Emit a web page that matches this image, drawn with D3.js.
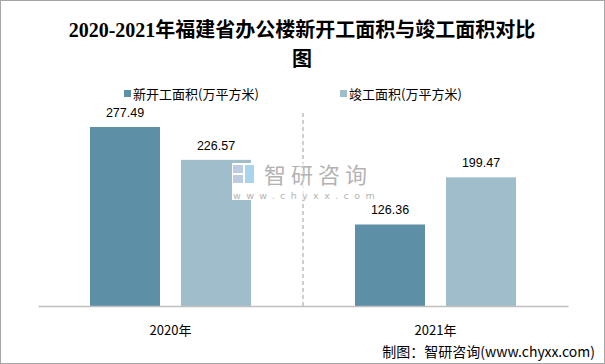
<!DOCTYPE html>
<html>
<head>
<meta charset="utf-8">
<script src="https://cdn.jsdelivr.net/npm/d3@7/dist/d3.min.js"></script>
<style>
html,body{margin:0;padding:0;background:#fff;}
svg{display:block;}
</style>
</head>
<body>
<svg id="chart" width="605" height="364"></svg>
<script>
const categories = ["2020年", "2021年"];
const seriesNames = ["新开工面积(万平方米)", "竣工面积(万平方米)"];
const newStarted = [277.49, 126.36];
const completed = [226.57, 199.47];
const colors = ["#5d8fa7", "#9fbdca"];

const W = 605, H = 364;
const svg = d3.select("#chart");
const cjk = "'Noto Sans CJK SC', 'Microsoft YaHei', sans-serif";

svg.append("rect").attr("x", 0.5).attr("y", 0.5).attr("width", W - 1).attr("height", H - 1)
  .attr("fill", "#fff").attr("stroke", "#a6a6a6").attr("stroke-width", 1);

// Title
const title = svg.append("text").attr("text-anchor", "middle")
  .attr("font-family", "'Liberation Serif', 'Noto Sans CJK SC', serif")
  .attr("font-weight", "bold").attr("font-size", 20).attr("fill", "#000");
title.append("tspan").attr("x", 302).attr("y", 37).text("2020-2021年福建省办公楼新开工面积与竣工面积对比");
title.append("tspan").attr("x", 302).attr("y", 66).text("图");

// Legend
const legendX = [124, 340];
seriesNames.forEach((n, i) => {
  svg.append("rect").attr("x", legendX[i]).attr("y", 90).attr("width", 7).attr("height", 7).attr("fill", colors[i]);
  svg.append("text").attr("x", legendX[i] + 9).attr("y", 99)
    .attr("font-family", cjk).attr("font-size", 13).attr("fill", "#000").text(n);
});

// Scales
const x0 = d3.scaleBand().domain(categories).range([38, 568]).paddingInner(0).paddingOuter(0);
const y = d3.scaleLinear().domain([0, 300]).range([306, 112.5]);
const barW = 70, gap = 21;

// Separator
svg.append("line").attr("x1", x0("2021年")).attr("x2", x0("2021年")).attr("y1", 113).attr("y2", 306)
  .attr("stroke", "#bfbfbf").attr("stroke-width", 1.5).attr("stroke-dasharray", "4,3");

// Bars
const groups = categories.map((c, i) => ({ c, vals: [newStarted[i], completed[i]] }));
groups.forEach(g => {
  const center = x0(g.c) + x0.bandwidth() / 2;
  g.vals.forEach((v, j) => {
    const bx = j === 0 ? center - gap / 2 - barW : center + gap / 2;
    svg.append("rect").attr("x", bx).attr("y", y(v)).attr("width", barW).attr("height", y(0) - y(v))
      .attr("fill", colors[j]);
    svg.append("text").attr("x", bx + barW / 2).attr("y", y(v) - 10).attr("text-anchor", "middle")
      .attr("font-family", "'Liberation Sans', Arial, sans-serif").attr("font-size", 12.5).attr("fill", "#000")
      .text(v.toFixed(2));
  });
});

// Watermark (white box overlaps bar)
const wm = svg.append("g");
wm.append("rect").attr("x", 232).attr("y", 163).attr("width", 142).attr("height", 37).attr("fill", "#fff");
wm.append("rect").attr("x", 233).attr("y", 165).attr("width", 10).attr("height", 8).attr("fill", "#bccbe0");
wm.append("rect").attr("x", 233).attr("y", 175).attr("width", 10).attr("height", 8).attr("fill", "#bccbe0");
wm.append("rect").attr("x", 245).attr("y", 165).attr("width", 9).attr("height", 18).attr("fill", "#a8d4ec");
wm.append("text").attr("x", 264).attr("y", 183).attr("font-family", cjk).attr("font-size", 22)
  .attr("fill", "#b3b3b3").attr("letter-spacing", 5).text("智研咨询");
wm.append("text").attr("x", 233).attr("y", 199).attr("font-family", "'DejaVu Sans', sans-serif").attr("font-size", 9.5)
  .attr("fill", "#b3b3b3").attr("letter-spacing", 5.4).text("www.chyxx.com");
// separator shows faintly through watermark
svg.append("line").attr("x1", x0("2021年")).attr("x2", x0("2021年")).attr("y1", 163).attr("y2", 200)
  .attr("stroke", "#e0e0e0").attr("stroke-width", 1).attr("stroke-dasharray", "4,3");

// Axis
const xAxis = d3.axisBottom(x0).tickSize(0).tickPadding(20);
const ax = svg.append("g").attr("transform", "translate(0,306)").call(xAxis);
ax.select(".domain").attr("stroke", "#bfbfbf").attr("stroke-width", 1.5);
ax.selectAll("text").attr("font-family", cjk).attr("font-size", 13).attr("fill", "#000");

// Footer
svg.append("text").attr("x", 595).attr("y", 357).attr("text-anchor", "end")
  .attr("font-family", cjk).attr("font-size", 14).attr("fill", "#000")
  .text("制图：智研咨询(www.chyxx.com)");
</script>
</body>
</html>
